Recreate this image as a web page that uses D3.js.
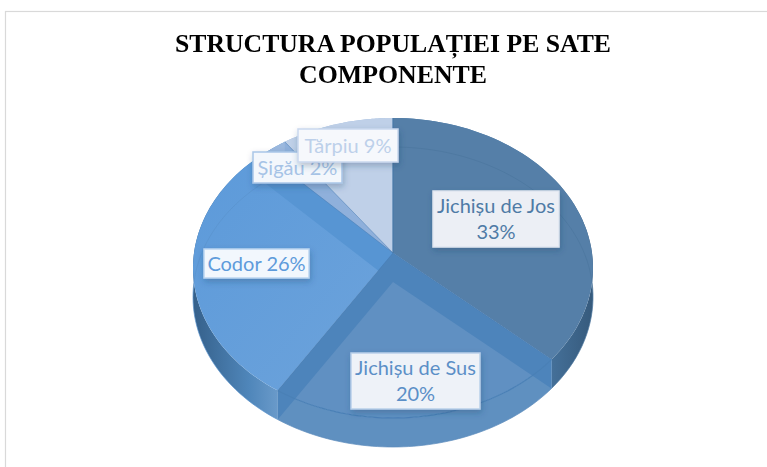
<!DOCTYPE html>
<html><head><meta charset="utf-8">
<script src="https://cdn.jsdelivr.net/npm/d3@7"></script>
<style>html,body{margin:0;padding:0;background:#fff}svg{display:block}</style>
</head><body><div id="chart"></div>
<script>
const categories = ["Jichișu de Jos", "Jichișu de Sus", "Codor", "Șigău", "Tărpiu"];
const values = [33, 20, 26, 2, 9];
const titleLines = ["STRUCTURA POPULAȚIEI PE SATE", "COMPONENTE"];
const labelLines = [["Jichișu de Jos", "33%"], ["Jichișu de Sus", "20%"], ["Codor 26%"], ["Șigău 2%"], ["Tărpiu 9%"]];

const topColors = ["#557fa8", "#6090c2", "#68a1db", "#9bb8de", "#bfd0e8"];
const textColors = ["#4f7ba6", "#5b8fc7", "#5e9bdb", "#a6c3e6", "#bdd0ea"];
const sideLeft = ["#5f90c0", "#5f90c0", "#3f73aa", "#5c95cf", "#9fbbdf"];
const sideRight = ["#365a7c", "#5f90c0", "#6ba0d6", "#5c95cf", "#9fbbdf"];
const boxes = [
  {x:433,y:191,w:126,h:56},{x:351,y:353,w:129,h:56},{x:204,y:249,w:105,h:29},
  {x:253,y:152,w:89,h:31},{x:298,y:129,w:100,h:33}];
const boxFill = ["#eceff5","#eef2f8","#f2f7fd","#f3f7fc","#f6f8fc"];
const boxStroke = ["#dfe6f0","#b9d0ea","#bcd6f1","#a9c6e8","#c9d8ee"];

const W = 767, H = 467, depth = 29;
const svg = d3.select("#chart").append("svg").attr("width", W).attr("height", H);
const defs = svg.append("defs");
const sh = defs.append("filter").attr("id","sh").attr("x","-20%").attr("y","-30%").attr("width","140%").attr("height","170%");
sh.append("feDropShadow").attr("dx",1).attr("dy",3).attr("stdDeviation",3).attr("flood-color","#1f3f66").attr("flood-opacity",.3);
const soft = defs.append("filter").attr("id","soft").attr("x","-5%").attr("y","-20%").attr("width","110%").attr("height","140%");
soft.append("feGaussianBlur").attr("stdDeviation",.4);

// frame
svg.append("rect").attr("x",5.5).attr("y",11.5).attr("width",W+20).attr("height",H+20)
  .attr("fill","#fff").attr("stroke","#d9d9d9").attr("stroke-width",1.2);

// title
const titleG = svg.append("g").attr("filter","url(#soft)");
titleLines.forEach((t,i)=>titleG.append("text").attr("x",393).attr("y",[52,83][i])
  .attr("text-anchor","middle").attr("font-family","'Liberation Serif',serif").attr("font-weight","bold")
  .attr("font-size",26).attr("textLength",[436,188][i]).attr("lengthAdjust","spacingAndGlyphs").attr("fill","#000").text(t));

// perspective projection of the pie's plane
const cx = 393, apexY = 253, k = 0.1, a = 148.5, b = 199;
const project = (theta, r=1, dy=0) => {
  const u = r*Math.sin(theta), v = r*Math.cos(theta), d = 1 + k*v;
  return [cx + b*u/d, apexY - a*v/d + dy];
};
const arcsData = d3.pie().sort(null).value(d=>d)(values);
const line = d3.line();
const arcPts = (s,e,dy=0) => d3.range(0,61).map(i=>project(s+(e-s)*i/60,1,dy));
const wedge = (s,e,dy=0) => line([project(0,0,dy),...arcPts(s,e,dy)])+"Z";
const rimQuad = (s,e) => line([...arcPts(s,e,0),...arcPts(s,e,depth).reverse()])+"Z";
const wallQuad = t => line([project(0,0,0),project(t,1,0),project(t,1,depth),project(0,0,depth)])+"Z";

// side gradients
arcsData.forEach((d,i)=>{
  const g = defs.append("linearGradient").attr("id","side"+i).attr("gradientUnits","userSpaceOnUse")
    .attr("x1",193).attr("x2",593).attr("y1",0).attr("y2",0);
  if(i===0){
    g.append("stop").attr("offset","0.82").attr("stop-color","#4f80ae");
    g.append("stop").attr("offset","1").attr("stop-color",sideRight[i]);
  } else if(i===2){
    g.append("stop").attr("offset","0").attr("stop-color","#35608a");
    g.append("stop").attr("offset","0.14").attr("stop-color","#4f86ba");
    g.append("stop").attr("offset","0.24").attr("stop-color","#74a2d0");
  } else {
    g.append("stop").attr("offset","0").attr("stop-color",sideLeft[i]);
    g.append("stop").attr("offset","1").attr("stop-color",sideRight[i]);
  }
});
const codorGrad = defs.append("linearGradient").attr("id","codor").attr("x1",0).attr("y1",0).attr("x2",1).attr("y2",1);
codorGrad.append("stop").attr("offset",0).attr("stop-color","#5c9ada");
codorGrad.append("stop").attr("offset",1).attr("stop-color","#6da3db");

const pie = svg.append("g");
pie.selectAll("path.rim").data(arcsData).join("path").attr("class","rim")
  .attr("d",d=>rimQuad(d.startAngle,d.endAngle))
  .attr("fill",(d,i)=>`url(#side${i})`);
pie.selectAll("path.top").data(arcsData).join("path").attr("class","top")
  .attr("d",d=>wedge(d.startAngle,d.endAngle))
  .attr("fill",(d,i)=>i===2?"url(#codor)":topColors[i]);
// base outline seen through the translucent top
pie.selectAll("path.base").data(arcsData).join("path").attr("class","base")
  .attr("d",d=>line(arcPts(d.startAngle,d.endAngle,depth)))
  .attr("fill","none").attr("stroke",(d,i)=>i===2?"#5a93cd":i===1?"#5c8cbc":"#4c769e").attr("stroke-width",1).attr("stroke-opacity",.7);
// radial walls seen through the top, light ones first
const walls = [
  {t:arcsData[3].endAngle,c:"#8fb0db"},
  {t:arcsData[2].endAngle,c:"#5795d3"},
  {t:arcsData[1].endAngle,c:"#4d84bb"},
  {t:arcsData[0].endAngle,c:"#4d84bb"}];
pie.selectAll("path.wall").data(walls).join("path").attr("class","wall")
  .attr("d",d=>wallQuad(d.t)).attr("fill",d=>d.c);
pie.selectAll("path.edge").data(arcsData).join("path").attr("class","edge")
  .attr("d",d=>line([project(0,0,0),project(d.endAngle,1,0)]))
  .attr("fill","none").attr("stroke","#4478ae").attr("stroke-width",.8).attr("stroke-opacity",.6);
pie.append("path").attr("d",line(arcPts(arcsData[0].endAngle,arcsData[1].endAngle,0)))
  .attr("fill","none").attr("stroke","#4a80b6").attr("stroke-width",1.2);
pie.append("path").attr("d",line([project(0,0,0),project(0,1,0)])).attr("stroke","#4a7aa8").attr("stroke-width",1);

// labels
const labels = svg.append("g").selectAll("g").data(arcsData).join("g");
labels.append("rect").attr("x",(d,i)=>boxes[i].x).attr("y",(d,i)=>boxes[i].y)
  .attr("width",(d,i)=>boxes[i].w).attr("height",(d,i)=>boxes[i].h)
  .attr("fill",(d,i)=>boxFill[i]).attr("stroke",(d,i)=>boxStroke[i]).attr("stroke-width",1.5).attr("filter","url(#sh)");
labels.each(function(d,i){
  const g = d3.select(this), lines = labelLines[i], bx = boxes[i];
  lines.forEach((t,j)=>g.append("text")
    .attr("x",bx.x+bx.w/2).attr("y",bx.y+bx.h/2+(j-(lines.length-1)/2)*26+7)
    .attr("text-anchor","middle").attr("font-family","Lato,'Open Sans',sans-serif").attr("font-size",20)
    .attr("fill",textColors[i]).text(t));
});
</script></body></html>
